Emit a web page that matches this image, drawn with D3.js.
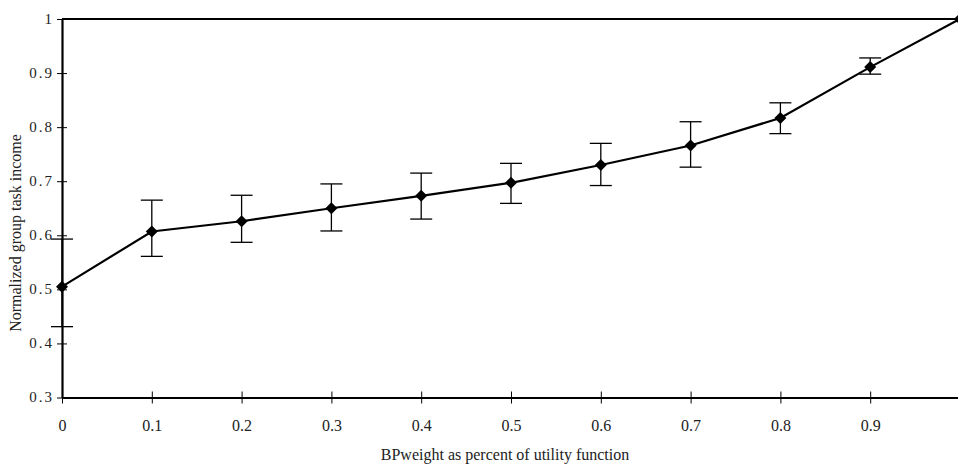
<!DOCTYPE html>
<html>
<head>
<meta charset="utf-8">
<script src="https://cdn.jsdelivr.net/npm/d3@7"></script>
<style>
  html, body { margin: 0; padding: 0; background: #fff; overflow: hidden; }
  text { font-family: "Liberation Serif", "Times New Roman", serif; fill: #222; }
</style>
</head>
<body>
<div id="chart"></div>
<script>
// BPweight values (x) and normalized income (y) with error bar bounds
const weights = [0, 0.1, 0.2, 0.3, 0.4, 0.5, 0.6, 0.7, 0.8, 0.9, 1.0];
const income  = [0.505, 0.607, 0.626, 0.650, 0.673, 0.697, 0.730, 0.766, 0.817, 0.911, 1.0];
const errHigh = [0.593, 0.665, 0.674, 0.695, 0.715, 0.733, 0.770, 0.810, 0.845, 0.928, null];
const errLow  = [0.431, 0.561, 0.587, 0.608, 0.630, 0.659, 0.692, 0.726, 0.788, 0.898, null];
const xTicks = [0, 0.1, 0.2, 0.3, 0.4, 0.5, 0.6, 0.7, 0.8, 0.9];
const yTicks = [0.3, 0.4, 0.5, 0.6, 0.7, 0.8, 0.9, 1];

const W = 958, H = 464;
const margin = { top: 19, left: 62 };
const width = 898, height = 378.5;

const svg = d3.select('#chart').append('svg')
    .attr('width', W)
    .attr('height', H);

const g = svg.append('g')
    .attr('transform', `translate(${margin.left},${margin.top})`);

const x = d3.scaleLinear().domain([0, 1]).range([0, width]);
const y = d3.scaleLinear().domain([0.3, 1]).range([height, 0]);

// top border of the plot area
g.append('line')
    .attr('x1', 0).attr('x2', width)
    .attr('y1', 0).attr('y2', 0)
    .attr('stroke', '#000').attr('stroke-width', 2);

// X axis
const xAxis = g.append('g')
    .attr('transform', `translate(0,${height})`)
    .call(d3.axisBottom(x).tickValues(xTicks).tickSize(0).tickPadding(0)
        .tickFormat(d => d === 0 ? '0' : d.toFixed(1)));
xAxis.select('.domain').attr('stroke', '#000').attr('stroke-width', 2.2);
xAxis.selectAll('.tick line').attr('y1', -6).attr('y2', 6).attr('stroke', '#000').attr('stroke-width', 1);
xAxis.selectAll('.tick text')
    .attr('y', 33).attr('dy', null)
    .style('font-size', '16px').style('font-family', '"Liberation Serif", serif').attr('fill', '#222');

// Y axis
const yAxis = g.append('g')
    .call(d3.axisLeft(y).tickValues(yTicks).tickSize(0).tickPadding(0)
        .tickFormat(d => d === 1 ? '1' : d.toFixed(1)));
yAxis.select('.domain').attr('stroke', '#000').attr('stroke-width', 2.2);
yAxis.selectAll('.tick line').attr('x1', -5).attr('x2', 5).attr('stroke', '#000').attr('stroke-width', 1);
yAxis.selectAll('.tick text')
    .attr('x', -8).attr('dy', '0.28em')
    .style('font-size', '15px').style('letter-spacing', '2px')
    .style('font-family', '"Liberation Serif", serif').attr('fill', '#222');

const pts = weights.map((w, i) => ({ w, v: income[i], hi: errHigh[i], lo: errLow[i] }));

// error bars
const eb = g.selectAll('.err')
    .data(pts.filter(d => d.hi !== null))
    .enter().append('g').attr('class', 'err')
    .attr('stroke', '#000').attr('stroke-width', 1.3);
eb.append('line')
    .attr('x1', d => x(d.w)).attr('x2', d => x(d.w))
    .attr('y1', d => y(d.hi)).attr('y2', d => y(d.lo));
eb.append('line')
    .attr('x1', d => x(d.w) - 11).attr('x2', d => x(d.w) + 11)
    .attr('y1', d => y(d.hi)).attr('y2', d => y(d.hi));
eb.append('line')
    .attr('x1', d => x(d.w) - 11).attr('x2', d => x(d.w) + 11)
    .attr('y1', d => y(d.lo)).attr('y2', d => y(d.lo));

// line
const line = d3.line().x(d => x(d.w)).y(d => y(d.v));
g.append('path')
    .datum(pts)
    .attr('d', line)
    .attr('fill', 'none')
    .attr('stroke', '#000')
    .attr('stroke-width', 2.2);

// diamond markers
g.selectAll('.pt')
    .data(pts)
    .enter().append('path')
    .attr('class', 'pt')
    .attr('transform', d => `translate(${x(d.w)},${y(d.v)})`)
    .attr('d', 'M0,-6L6,0L0,6L-6,0Z')
    .attr('fill', '#000');

// axis titles
svg.append('text')
    .attr('x', 505)
    .attr('y', 460)
    .attr('text-anchor', 'middle')
    .style('font-size', '16px')
    .text('BPweight as percent of utility function');

svg.append('text')
    .attr('transform', 'translate(21,233) rotate(-90)')
    .attr('text-anchor', 'middle')
    .style('font-size', '16px')
    .text('Normalized group task income');
</script>
</body>
</html>
